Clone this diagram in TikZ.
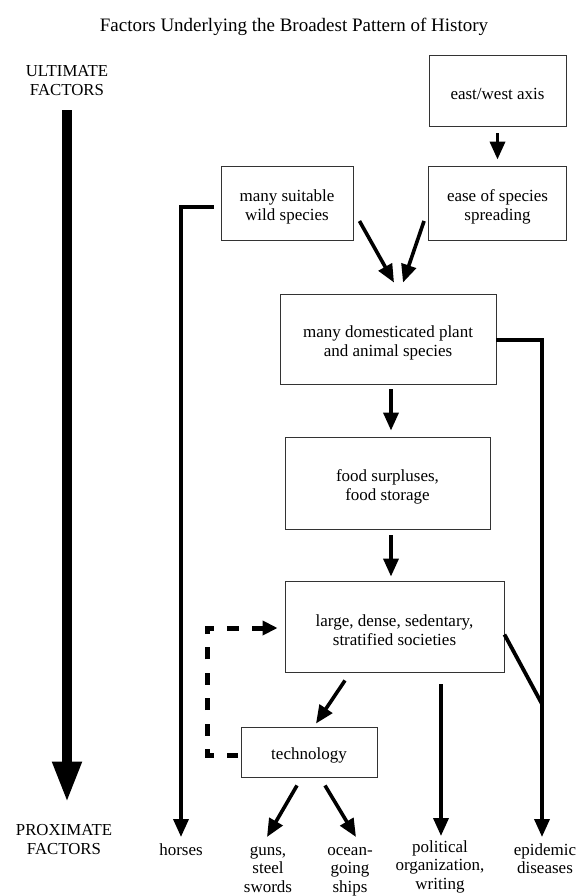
\documentclass[tikz,border=0pt]{standalone}
\usepackage{fontspec}
\setmainfont{Liberation Serif}
\usetikzlibrary{arrows.meta,calc}
\newcommand\txtfont{\fontsize{17}{19}\selectfont}
\newcommand\lblfont{\fontsize{17}{18.5}\selectfont}
\newcommand\capfont{\fontsize{16.8}{19}\selectfont}
\newcommand\ttlfont{\fontsize{19}{21}\selectfont}
\newcommand\boxlift{\rule{0pt}{19pt}}
\begin{document}
\begin{tikzpicture}[x=1pt,y=-1pt,
  box/.style={draw=black!80, line width=0.9pt, align=center, font=\txtfont, inner sep=0pt},
  lbl/.style={align=center, font=\lblfont, inner sep=0pt, anchor=north},
  captext/.style={align=center, font=\capfont, inner sep=0pt},
  arr/.style={line width=3.6pt, -{Triangle[length=18pt,width=15pt]}},
  bar/.style={line width=3.8pt},
  dsh/.style={line width=5pt, dash pattern=on 12pt off 13.4pt, dash phase=1.4pt, -{Triangle[length=15pt,width=14pt]}},
  big/.style={line width=10pt, -{Triangle[length=41pt,width=27pt]}}
]
\useasboundingbox (0,0) rectangle (588,896);
\node[font=\ttlfont, inner sep=0pt] (title) at (294,27) {Factors Underlying the Broadest Pattern of History};
\node[captext] (ult) at (67,81) {ULTIMATE\\FACTORS};
\node[captext] (prox) at (64,840) {PROXIMATE\\FACTORS};

\node[box, minimum width=137pt, minimum height=71pt] (ewa) at (497.5,90.5) {\boxlift east/west axis};
\node[box, minimum width=138pt, minimum height=74pt] (ease) at (497.5,203) {\boxlift ease of species\\spreading};
\node[box, minimum width=132pt, minimum height=74pt] (wild) at (287,203) {\boxlift many suitable\\wild species};
\node[box, minimum width=216pt, minimum height=90pt] (dom) at (388,339) {\boxlift many domesticated plant\\and animal species};
\node[box, minimum width=205pt, minimum height=92pt] (food) at (387.5,483) {\boxlift food surpluses,\\food storage};
\node[box, minimum width=219pt, minimum height=91pt] (large) at (394.5,626.5) {\boxlift large, dense, sedentary,\\stratified societies};
\node[box, minimum width=136pt, minimum height=50pt] (tech) at (309,752) {\boxlift technology};

\node[lbl] (horses) at (181,842) {\strut horses};
\node[lbl] (guns) at (268,842) {\strut guns,\\steel\\swords};
\node[lbl] (ocean) at (350,842) {\strut ocean-\\going\\ships};
\node[lbl] (pol) at (440,839) {\strut political\\organization,\\writing};
\node[lbl] (epi) at (545,842) {\strut epidemic\\diseases};

\draw[big] ([yshift=-14pt]ult.south) -- ([yshift=22pt]ult.south |- prox.north);

\draw[arr, shorten <=7pt, shorten >=6pt] (ewa.south) -- (ease.north);
\draw[arr] ([xshift=6pt,yshift=-18pt]wild.east) -- ([xshift=6pt,yshift=11pt]dom.north);
\draw[arr] ([xshift=-4pt,yshift=-18pt]ease.west) -- ([xshift=15pt,yshift=11pt]dom.north);
\draw[arr, shorten <=5pt, shorten >=6pt] ([xshift=3pt]dom.south) -- ([xshift=3pt]dom.south |- food.north);
\draw[arr, shorten <=6pt, shorten >=4pt] ([xshift=3.5pt]food.south) -- ([xshift=3.5pt]food.south |- large.north);
\draw[arr] ([xshift=-49.5pt,yshift=-8pt]large.south) -- ([xshift=7pt,yshift=3pt]tech.north);
\draw[arr] ([xshift=-12pt,yshift=-8pt]tech.south) -- ([xshift=-1pt,yshift=5pt]guns.north);
\draw[arr] ([xshift=16pt,yshift=-8pt]tech.south) -- ([xshift=6pt,yshift=5pt]ocean.north);
\draw[arr, shorten <=7pt, shorten >=5pt] ([yshift=-4pt]wild.west) -| (horses.north);
\draw[arr, shorten >=3pt] ([xshift=46.5pt,yshift=-12pt]large.south) -- ([xshift=46.5pt]large.south |- pol.north);
\draw[arr, shorten >=5pt] ([yshift=-1pt]dom.east) -| ([xshift=-3pt]epi.north);
\coordinate (join) at (542,704);
\draw[bar] ([yshift=-8pt]large.east) -- (join);
\draw[dsh, shorten <=3pt, shorten >=7pt] ([yshift=-3pt]tech.west) -- ++(-33,0) |- ([yshift=-1.5pt]large.west);
\end{tikzpicture}
\end{document}
